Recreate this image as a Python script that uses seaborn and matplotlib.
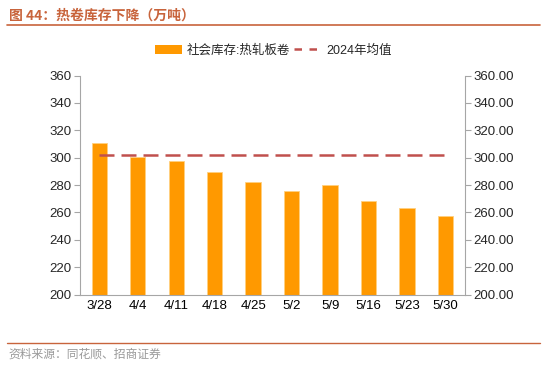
import matplotlib
matplotlib.use("Agg")
import matplotlib.pyplot as plt
import matplotlib.ticker as mticker
from matplotlib.lines import Line2D
from matplotlib.patches import Patch
import seaborn as sns
import pandas as pd

sns.set_theme()
sns.set_style("white")
plt.rcParams['font.family'] = ['Liberation Sans', 'Noto Sans CJK SC', 'DejaVu Sans']

# Data
dates = ["3/28", "4/4", "4/11", "4/18", "4/25", "5/2", "5/9", "5/16", "5/23", "5/30"]
stock = [310.4, 300.8, 297.8, 289.4, 282.3, 275.8, 279.9, 268.7, 262.9, 257.3]
avg_2024 = 301.9

title = "图 44：热卷库存下降（万吨）"
source = "资料来源：同花顺、招商证券"
bar_label = "社会库存:热轧板卷"
line_label = "2024年均值"

df = pd.DataFrame({"date": dates, "stock": stock, "avg": [avg_2024] * len(dates)})

bar_color = "#FF9900"
line_color = "#C0504D"
axis_color = "#A6A6A6"
title_color = "#C8643C"

fig = plt.figure(figsize=(5.5, 3.82), dpi=100)
ax = fig.add_axes([0.1455, 0.229, 0.6995, 0.573])

sns.barplot(data=df, x="date", y="stock", color=bar_color, saturation=1,
            width=0.4, ax=ax, edgecolor="#FFD080", linewidth=0.6)
ax.plot(range(len(dates)), df["avg"], color=line_color, linestyle=(0, (6, 2.8)),
        linewidth=1.8)

ax.set_ylim(200, 360)
ax.set_xlim(-0.5, len(dates) - 0.5)
ax.set_yticks(range(200, 361, 20))
ax.set_xlabel("")
ax.set_ylabel("")

# ticks between categories
ax.set_xticks([i + 0.5 for i in range(-1, len(dates))], minor=True)
ax.tick_params(axis="x", which="major", length=0, pad=4, labelsize=9.5, colors="black")
ax.tick_params(axis="x", which="minor", length=4, color=axis_color, width=0.8)
ax.tick_params(axis="y", length=4, color=axis_color, width=0.8, labelsize=9.5,
               left=True, pad=2)

for side in ["top", "right"]:
    ax.spines[side].set_visible(False)
for side in ["left", "bottom"]:
    ax.spines[side].set_color(axis_color)
    ax.spines[side].set_linewidth(0.8)

ax2 = ax.twinx()
ax2.set_ylim(200, 360)
ax2.set_yticks(range(200, 361, 20))
ax2.yaxis.set_major_formatter(mticker.FormatStrFormatter("%.2f"))
ax2.tick_params(axis="y", length=4, color=axis_color, width=0.8, labelsize=9.5,
                right=True, pad=2)
for side in ["top", "left", "bottom"]:
    ax2.spines[side].set_visible(False)
ax2.spines["right"].set_color(axis_color)
ax2.spines["right"].set_linewidth(0.8)
ax2.grid(False)

handles = [Patch(facecolor=bar_color, edgecolor="none"),
           Line2D([0], [0], color=line_color, linestyle=(0, (3, 3)), linewidth=1.8)]
fig.legend(handles, [bar_label, line_label], loc="center", ncol=2,
           bbox_to_anchor=(0.497, 0.868), frameon=False, fontsize=9,
           handlelength=2.2, handleheight=0.8, columnspacing=0.3, handletextpad=0.4)

# header and footer
fig.text(0.016, 0.958, title, color=title_color, fontsize=10, fontweight="bold",
         ha="left", va="center", family=['Noto Sans CJK SC', 'DejaVu Sans'])
fig.add_artist(Line2D([0.013, 0.982], [0.935, 0.935], color=title_color, linewidth=1.2))
fig.add_artist(Line2D([0.013, 0.982], [0.102, 0.102], color=title_color, linewidth=1.0))
fig.text(0.016, 0.073, source, color="#999999", fontsize=8.5, ha="left", va="center",
         family=['Noto Sans CJK SC', 'DejaVu Sans'])

fig.savefig("out.png", dpi=100)
